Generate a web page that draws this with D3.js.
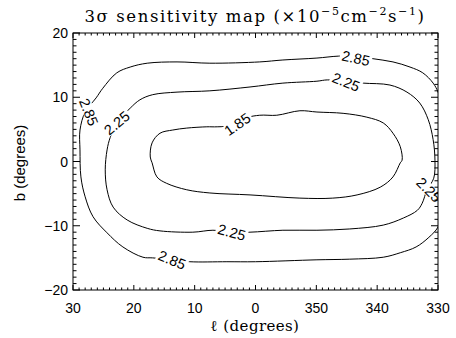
<!DOCTYPE html>
<html><head><meta charset="utf-8">
<script src="https://cdn.jsdelivr.net/npm/d3@7"></script>
<style>body{margin:0;background:#fff}</style>
</head><body>
<svg id="c" width="456" height="338"></svg>
<script>
// ---- data ----
const xTicks = [30, 20, 10, 0, -10, -20, -30];
const xTickLabels = ["30", "20", "10", "0", "350", "340", "330"];
const yTicks = [-20, -10, 0, 10, 20];
const yTickLabels = ["\u221220", "\u221210", "0", "10", "20"];
const levels = ["1.85", "2.25", "2.85"];
// contour rings, [l (deg, signed), b (deg)]
const contour185 = [[17.3,0.7],[17.0,2.9],[15.7,4.4],[13.6,4.9],[11.3,5.2],[8.0,5.4],[6.3,5.4],[3.0,5.7],[1.4,6.8],[-0.7,7.2],[-3.5,7.2],[-7.3,7.9],[-10.1,7.7],[-14.4,7.5],[-18.3,6.9],[-21.0,6.0],[-22.6,4.4],[-23.8,2.3],[-24.1,0.2],[-23.8,-0.2],[-22.6,-2.4],[-20.5,-4.0],[-16.7,-5.2],[-12.7,-5.7],[-7.3,-5.7],[0.9,-5.2],[7.5,-4.9],[11.3,-4.4],[14.6,-3.4],[16.2,-2.4],[17.0,-0.2]];
const contour225 = [[24.4,1.8],[23.9,3.7],[22.8,6.0],[20.6,8.3],[19.0,9.6],[16.9,10.4],[12.9,10.8],[7.5,11.0],[0.9,11.6],[-4.5,12.2],[-10.1,12.5],[-11.8,12.7],[-14.7,12.5],[-17.7,12.2],[-22.1,11.9],[-24.9,10.8],[-27.0,9.1],[-28.4,6.5],[-29.2,3.4],[-29.5,0.2],[-29.3,-2.6],[-28.2,-4.4],[-27.4,-6.5],[-26.6,-7.6],[-24.3,-8.8],[-21.0,-9.9],[-15.5,-10.5],[-10.1,-10.7],[-4.5,-10.7],[0.9,-11.0],[3.7,-11.0],[7.0,-10.7],[10.3,-11.0],[15.7,-10.8],[17.8,-10.4],[21.1,-9.1],[23.4,-7.1],[24.4,-4.4],[24.7,-1.3]];
const contour285 = [[28.85,4.9],[28.0,7.7],[26.2,9.9],[25.1,11.4],[22.8,13.8],[20.6,14.7],[17.8,15.3],[12.9,15.5],[7.5,15.3],[-0.7,15.5],[-4.5,15.8],[-10.1,16.1],[-13.6,16.4],[-16.7,16.4],[-19.3,16.0],[-22.6,15.5],[-25.4,14.7],[-27.5,13.8],[-29.2,12.2],[-30.0,10.8],[-30.8,8.0],[-31.2,0.2],[-30.8,-7.5],[-30.0,-10.2],[-28.5,-11.8],[-26.4,-13.3],[-23.8,-14.2],[-21.0,-14.9],[-15.5,-15.2],[-10.1,-15.3],[0.0,-15.6],[4.7,-15.6],[10.8,-15.6],[13.7,-15.3],[16.9,-15.0],[18.5,-14.9],[21.8,-13.3],[24.4,-11.1],[26.7,-8.6],[28.0,-5.5],[28.7,-2.4],[28.85,1.8]];
// label anchors per level: [l, b, angle]
const labels185 = [[3.0, 5.8, -35]];
const labels225 = [[22.8, 6.0, -40], [-14.9, 12.4, 22], [3.9, -11.0, 15], [-28.5, -4.4, 45]];
const labels285 = [[27.4, 7.7, 68], [-16.5, 16.1, 12], [13.7, -15.3, 22]];

// ---- layout ----
const m = {l: 73, r: 438, t: 33, b: 290};
const svg = d3.select("#c");
const x = d3.scaleLinear().domain([30, -30]).range([m.l, m.r]);
const y = d3.scaleLinear().domain([-20, 20]).range([m.b, m.t]);
const sans = "'Liberation Sans', Arial, Helvetica, sans-serif";
const serif = "'DejaVu Serif', 'Liberation Serif', serif";

svg.append("defs").append("clipPath").attr("id", "clip")
  .append("rect").attr("x", m.l).attr("y", m.t).attr("width", m.r - m.l).attr("height", m.b - m.t);

const plot = svg.append("g").attr("clip-path", "url(#clip)");
const line = d3.line().x(d => x(d[0])).y(d => y(d[1])).curve(d3.curveCatmullRomClosed.alpha(0.5));
const rings = [contour185, contour225, contour285];
const labs = [labels185, labels225, labels285];
rings.forEach(r => {
  plot.append("path").attr("d", line(r)).attr("fill", "none").attr("stroke", "#000").attr("stroke-width", 1);
});
labs.forEach((ls, i) => {
  ls.forEach(a => {
    const g = plot.append("g").attr("transform", `translate(${x(a[0])},${y(a[1])}) rotate(${a[2]})`);
    const rect = g.append("rect").attr("fill", "#fff");
    const t = g.append("text").text(levels[i]).attr("text-anchor", "middle").attr("dy", "0.36em")
      .attr("font-family", sans).attr("font-size", 14.5);
    const w = t.node().getComputedTextLength();
    rect.attr("x", -w / 2 - 2).attr("y", -6).attr("width", w + 4).attr("height", 12);
  });
});

// ---- axes ----
const ax = svg.append("g").attr("stroke", "#000").attr("stroke-width", 1);
const minorX = d3.range(-30, 31, 1);
const minorY = d3.range(-20, 21, 1);
minorX.forEach(v => {
  const len = (v % 10 === 0) ? 5 : 2.5;
  ax.append("line").attr("x1", x(v)).attr("x2", x(v)).attr("y1", m.b).attr("y2", m.b - len);
  ax.append("line").attr("x1", x(v)).attr("x2", x(v)).attr("y1", m.t).attr("y2", m.t + len);
});
minorY.forEach(v => {
  const len = (v % 10 === 0) ? 7 : 3.5;
  ax.append("line").attr("y1", y(v)).attr("y2", y(v)).attr("x1", m.l).attr("x2", m.l + len);
  ax.append("line").attr("y1", y(v)).attr("y2", y(v)).attr("x1", m.r).attr("x2", m.r - len);
});
svg.append("rect").attr("x", m.l).attr("y", m.t).attr("width", m.r - m.l).attr("height", m.b - m.t)
  .attr("fill", "none").attr("stroke", "#000").attr("stroke-width", 1);

svg.append("g").selectAll("text").data(xTicks).join("text")
  .attr("x", d => x(d)).attr("y", 313).attr("text-anchor", "middle")
  .attr("font-family", sans).attr("font-size", 14).text((d, i) => xTickLabels[i]);
svg.append("g").selectAll("text").data(yTicks).join("text")
  .attr("x", 68).attr("y", d => y(d)).attr("dy", "0.36em").attr("text-anchor", "end")
  .attr("font-family", sans).attr("font-size", 14).text((d, i) => yTickLabels[i]);

// axis titles
svg.append("text").attr("transform", "translate(25,163) rotate(-90)").attr("text-anchor", "middle")
  .attr("font-family", sans).attr("font-size", 15).text("b (degrees)");
svg.append("text").attr("x", 255).attr("y", 331).attr("text-anchor", "middle")
  .attr("font-family", serif).attr("font-size", 15).attr("letter-spacing", 0.4).text("\u2113 (degrees)");

// title
const tt = svg.append("text").attr("x", 255).attr("y", 22).attr("text-anchor", "middle")
  .attr("font-family", serif).attr("font-size", 16.5).attr("letter-spacing", 1.6);
tt.append("tspan").text("3\u03c3 sensitivity map (\u00d710");
tt.append("tspan").attr("font-size", 11).attr("dy", -7).text("\u22125");
tt.append("tspan").attr("dy", 7).text("cm");
tt.append("tspan").attr("font-size", 11).attr("dy", -7).text("\u22122");
tt.append("tspan").attr("dy", 7).text("s");
tt.append("tspan").attr("font-size", 11).attr("dy", -7).text("\u22121");
tt.append("tspan").attr("dy", 7).text(")");
</script>
</body></html>
